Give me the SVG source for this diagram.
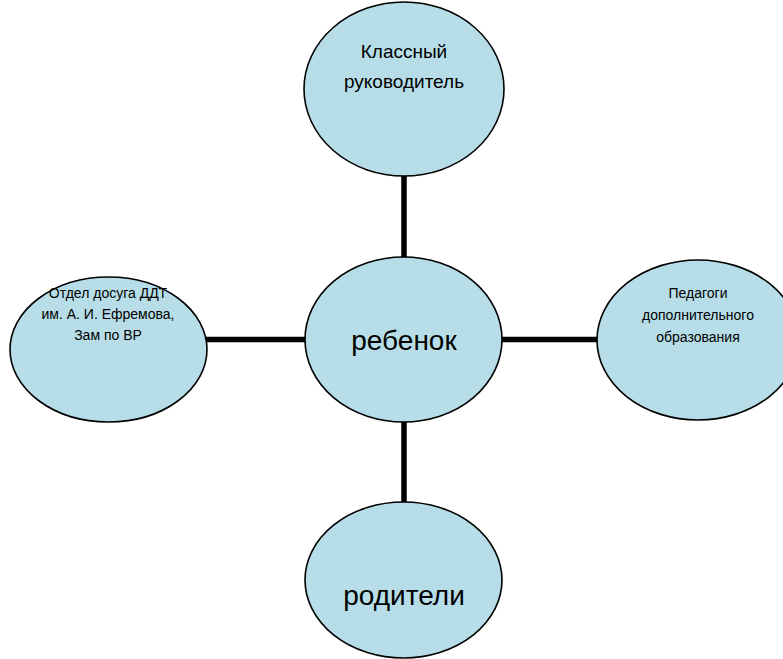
<svg xmlns="http://www.w3.org/2000/svg" width="783" height="659" viewBox="0 0 783 659">
  <style>
    .node ellipse { fill: #B7DEE8; stroke: #000000; stroke-width: 1.6; }
    .node text { font-family: "Liberation Sans", Arial, sans-serif; fill: #000000; text-anchor: middle; }
    .conn line { stroke: #000000; stroke-width: 5.5; }
  </style>
  <rect width="783" height="659" fill="#FFFFFF"/>
  <g id="connectors" class="conn">
    <line x1="404" y1="176" x2="404" y2="258"/>
    <line x1="404" y1="421" x2="404" y2="503"/>
    <line x1="206" y1="339.5" x2="306" y2="339.5"/>
    <line x1="501" y1="339.5" x2="599" y2="339.5"/>
  </g>
  <g id="node-teacher" class="node">
    <ellipse cx="404" cy="89" rx="100" ry="87"/>
    <text x="404" y="58" font-size="19">Классный</text>
    <text x="404" y="88" font-size="19">руководитель</text>
  </g>
  <g id="node-child" class="node">
    <ellipse cx="403.5" cy="339.5" rx="98.5" ry="82.5"/>
    <text x="404" y="350" font-size="28">ребенок</text>
  </g>
  <g id="node-leisure" class="node">
    <ellipse cx="108.5" cy="349.5" rx="98.5" ry="72.5"/>
    <text x="108" y="298" font-size="14">Отдел досуга ДДТ</text>
    <text x="108" y="319" font-size="14">им. А. И. Ефремова,</text>
    <text x="108" y="340" font-size="14">Зам по ВР</text>
  </g>
  <g id="node-pedagogues" class="node">
    <ellipse cx="698" cy="340" rx="101" ry="80"/>
    <text x="698" y="298" font-size="14">Педагоги</text>
    <text x="698" y="320" font-size="14">дополнительного</text>
    <text x="698" y="342" font-size="14">образования</text>
  </g>
  <g id="node-parents" class="node">
    <ellipse cx="403.5" cy="580" rx="98.5" ry="78"/>
    <text x="404" y="605" font-size="28">родители</text>
  </g>
</svg>
